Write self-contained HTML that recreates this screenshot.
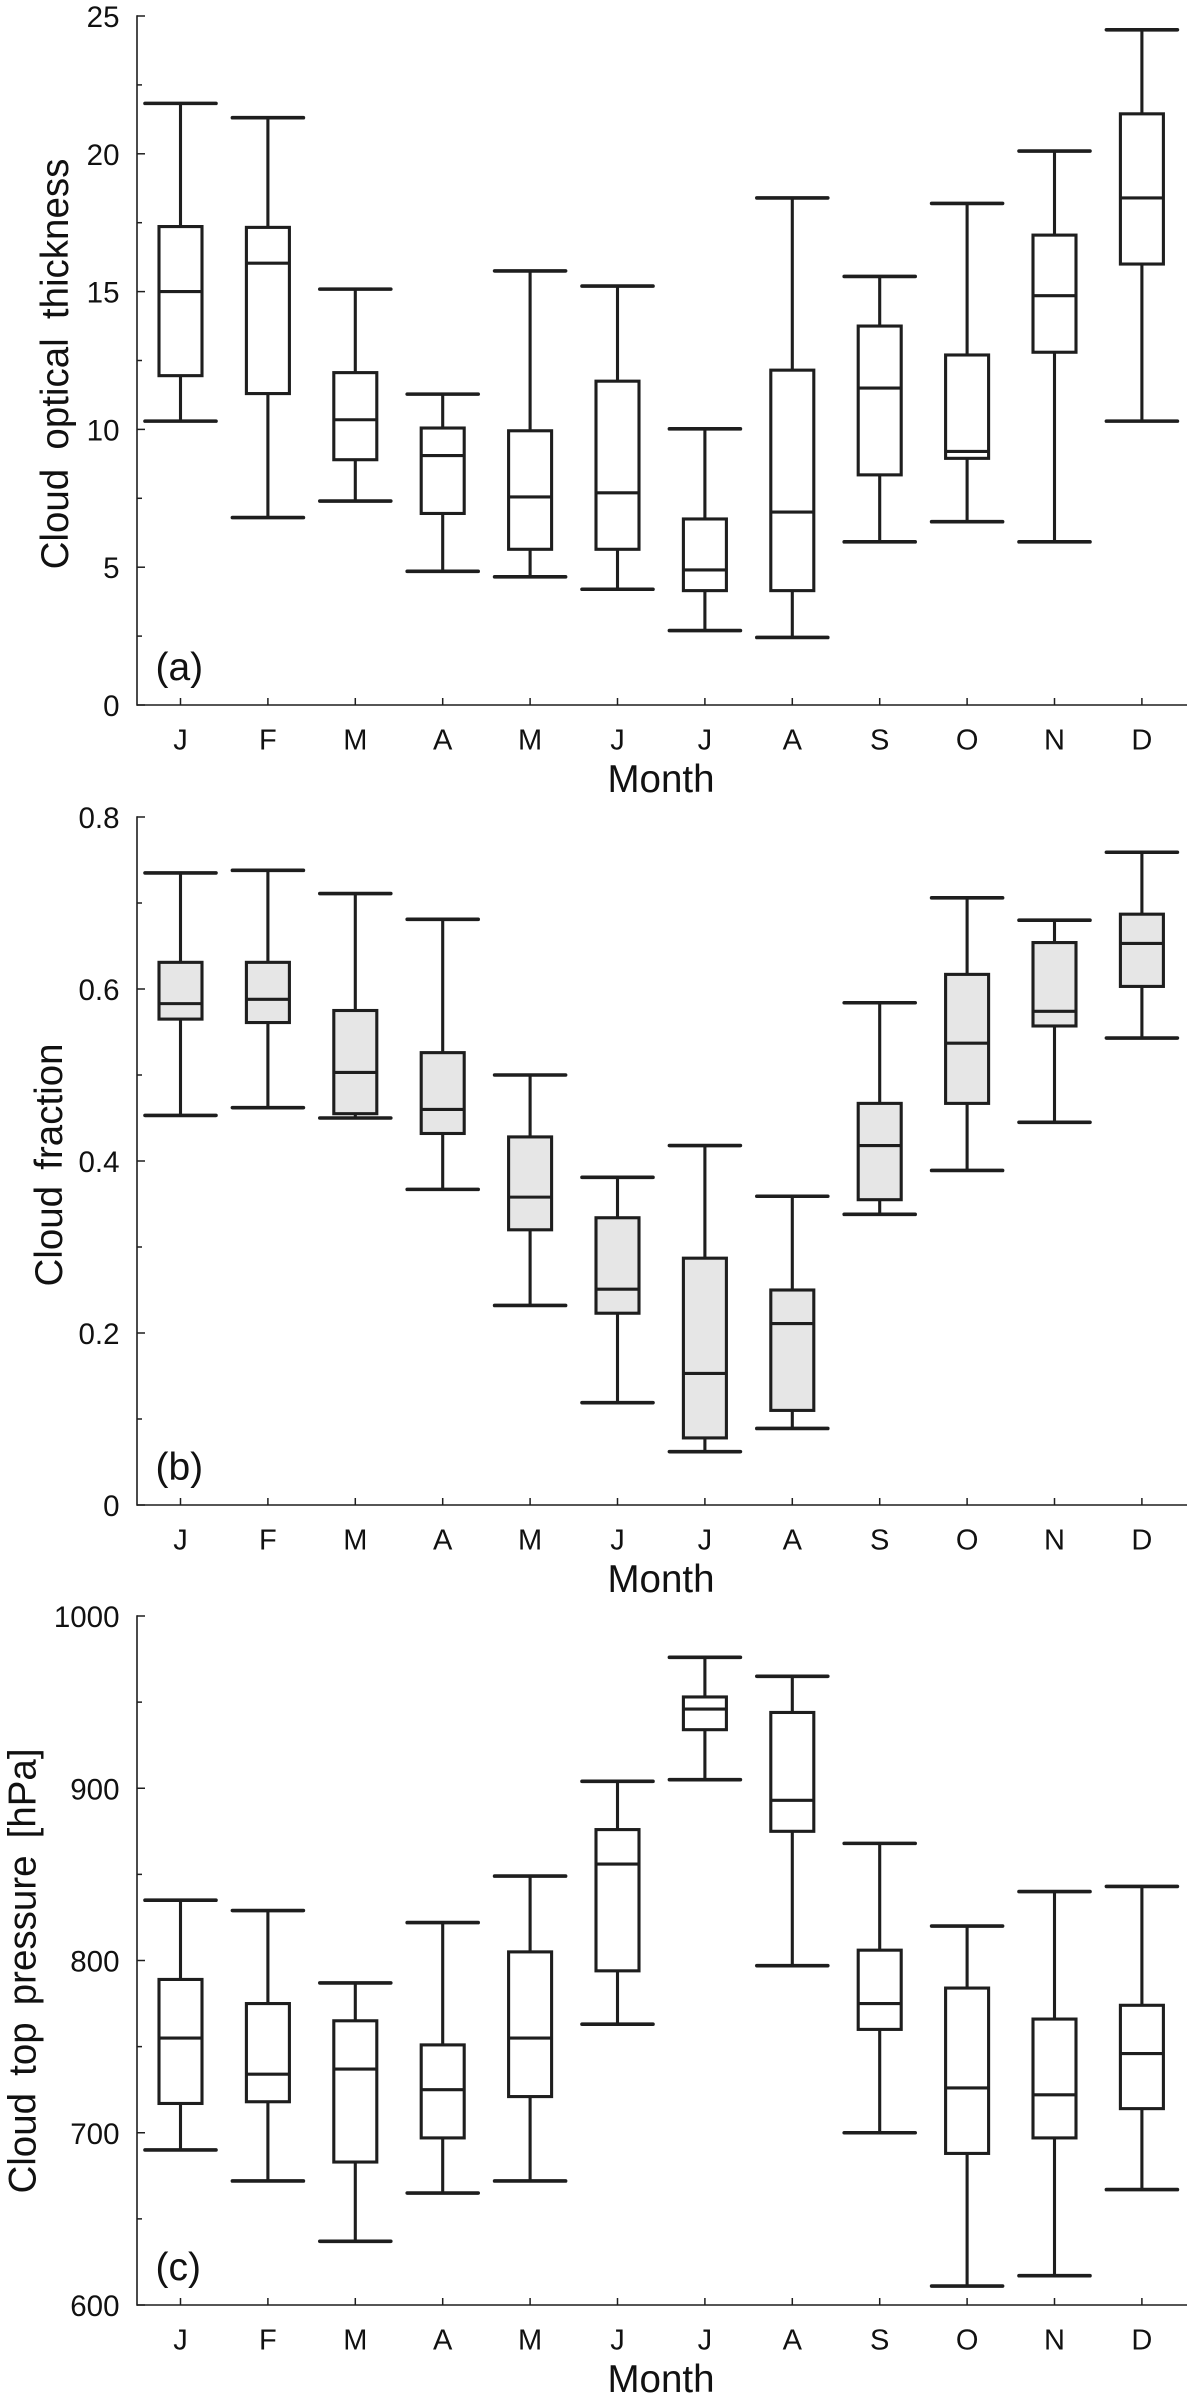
<!DOCTYPE html>
<html lang="en">
<head>
<meta charset="utf-8">
<title>Monthly cloud properties</title>
<style>
html,body{margin:0;padding:0;background:#fff;}
#chart{display:block;width:1188px;height:2400px;}
text{font-family:"Liberation Sans",Arial,sans-serif;fill:#111;}
</style>
</head>
<body>
<svg id="chart" xmlns="http://www.w3.org/2000/svg" width="1188" height="2400" viewBox="0 0 1188 2400"></svg>
<script>
const months = ['J','F','M','A','M','J','J','A','S','O','N','D'];

const thicknessTicks = [0,5,10,15,20,25];
const thicknessLow  = [10.3,6.8,7.4,4.85,4.65,4.2,2.7,2.45,5.92,6.65,5.92,10.3];
const thicknessQ1   = [11.95,11.3,8.9,6.95,5.65,5.65,4.15,4.15,8.35,8.95,12.8,16];
const thicknessMed  = [15,16.03,10.35,9.05,7.55,7.7,4.9,7,11.5,9.2,14.85,18.4];
const thicknessQ3   = [17.36,17.33,12.06,10.05,9.95,11.75,6.75,12.15,13.75,12.7,17.05,21.45];
const thicknessHigh = [21.83,21.31,15.09,11.28,15.75,15.2,10.02,18.4,15.55,18.2,20.1,24.5];

const fractionTicks = ['0','0.2','0.4','0.6','0.8'];
const fractionLow  = [.453,.462,.450,.367,.232,.119,.062,.089,.338,.389,.445,.543];
const fractionQ1   = [.565,.561,.455,.432,.320,.223,.078,.110,.355,.467,.557,.603];
const fractionMed  = [.583,.588,.503,.460,.358,.251,.153,.211,.418,.537,.574,.653];
const fractionQ3   = [.631,.631,.575,.526,.428,.334,.287,.250,.467,.617,.654,.687];
const fractionHigh = [.735,.738,.711,.681,.500,.381,.418,.359,.584,.706,.680,.759];

const pressureTicks = [600,700,800,900,1000];
const pressureLow  = [690,672,637,665,672,763,905,797,700,611,617,667];
const pressureQ1   = [717,718,683,697,721,794,934,875,760,688,697,714];
const pressureMed  = [755,734,737,725,755,856,946,893,775,726,722,746];
const pressureQ3   = [789,775,765,751,805,876,953,944,806,784,766,774];
const pressureHigh = [835,829,787,822,849,904,976,965,868,820,840,843];

const NS = 'http://www.w3.org/2000/svg';
const svg = document.getElementById('chart');
const INK = '#1e1e1e';
const AXIS_LEFT = 137, AXIS_RIGHT = 1187;
const FIRST_X = 180.5, STEP_X = 87.4;

function make(parent, tag, attrs, txt){
  const el = document.createElementNS(NS, tag);
  for (const k in attrs) el.setAttribute(k, attrs[k]);
  if (txt !== undefined) el.textContent = txt;
  parent.appendChild(el);
  return el;
}
function xAt(i){ return FIRST_X + STEP_X * i; }
function seg(parent, x1, y1, x2, y2, w, cap){
  return make(parent, 'line', {x1, y1, x2, y2, stroke: INK, 'stroke-width': w, 'stroke-linecap': cap || 'butt'});
}

function drawPanel(p){
  const g = make(svg, 'g', {});
  
  
  const yAt = v => p.bottom - (v - p.min) / (p.max - p.min) * (p.bottom - p.top);

  const axes = make(g, 'g', {});
  
  
  seg(axes, AXIS_LEFT, p.top - 0.75, AXIS_LEFT, p.bottom + 0.75, 1.6);
  seg(axes, AXIS_LEFT, p.bottom, AXIS_RIGHT, p.bottom, 1.6);

  p.ticks.forEach((t, i) => {
    const v = Number(t);
    const y = yAt(v);
    seg(axes, AXIS_LEFT, y, AXIS_LEFT + 8, y, 1.5);
    const lab = make(axes, 'text', {x: 119.5, y: y + 11, 'font-size': 29.5, 'text-anchor': 'end'}, String(t));
    
    
    if (i < p.ticks.length - 1) {
      const next = Number(p.ticks[i + 1]);
      const my = yAt((v + next) / 2);
      seg(axes, AXIS_LEFT, my, AXIS_LEFT + 5, my, 1.5);
    }
  });

  months.forEach((m, i) => {
    const x = xAt(i);
    seg(axes, x, p.bottom, x, p.bottom - 7, 1.5);
    const lab = make(axes, 'text', {x, y: p.bottom + 44.5, 'font-size': 29, 'text-anchor': 'middle'}, m);
    
    
  });

  months.forEach((m, i) => {
    const x = xAt(i);
    const box = make(g, 'g', {});
    
    
    const yL = yAt(p.low[i]), y1 = yAt(p.q1[i]), yM = yAt(p.med[i]), y3 = yAt(p.q3[i]), yH = yAt(p.high[i]);
    seg(box, x, yH, x, y3, 3.1);
    seg(box, x, y1, x, yL, 3.1);
    seg(box, x - 35.5, yH, x + 35.5, yH, 3.6, 'round');
    seg(box, x - 35.5, yL, x + 35.5, yL, 3.6, 'round');
    make(box, 'rect', {x: x - 21.5, y: y3, width: 43, height: y1 - y3, fill: p.fill, stroke: INK, 'stroke-width': 3.1});
    seg(box, x - 21.5, yM, x + 21.5, yM, 3.1);
  });

  const letter = make(g, 'text', {x: 155.5, y: p.bottom - 25, 'font-size': 39}, p.letter);
  
  

  const xTitle = make(g, 'text', {x: 661, y: p.bottom + 87, 'font-size': 38.5, 'text-anchor': 'middle'}, 'Month');
  
  

  const yTitle = make(g, 'text', {
    transform: 'translate(' + p.titleX + ',' + p.titleY + ') rotate(-90)',
    'font-size': 38.5, 'text-anchor': 'middle', 'word-spacing': p.wordGap + 'px'
  }, p.title);
  
  
}

drawPanel({key:'thickness', top:16, bottom:705, min:0, max:25, ticks:thicknessTicks, letter:'(a)',
  title:'Cloud optical thickness', titleX:68, titleY:364, wordGap:8.5, fill:'#fff',
  low:thicknessLow, q1:thicknessQ1, med:thicknessMed, q3:thicknessQ3, high:thicknessHigh});
drawPanel({key:'fraction', top:817, bottom:1505, min:0, max:0.8, ticks:fractionTicks, letter:'(b)',
  title:'Cloud fraction', titleX:62, titleY:1165, wordGap:5.5, fill:'#e6e6e6',
  low:fractionLow, q1:fractionQ1, med:fractionMed, q3:fractionQ3, high:fractionHigh});
drawPanel({key:'pressure', top:1616, bottom:2305, min:600, max:1000, ticks:pressureTicks, letter:'(c)',
  title:'Cloud top pressure [hPa]', titleX:35.5, titleY:1971, wordGap:6.4, fill:'#fff',
  low:pressureLow, q1:pressureQ1, med:pressureMed, q3:pressureQ3, high:pressureHigh});
</script>
</body>
</html>
